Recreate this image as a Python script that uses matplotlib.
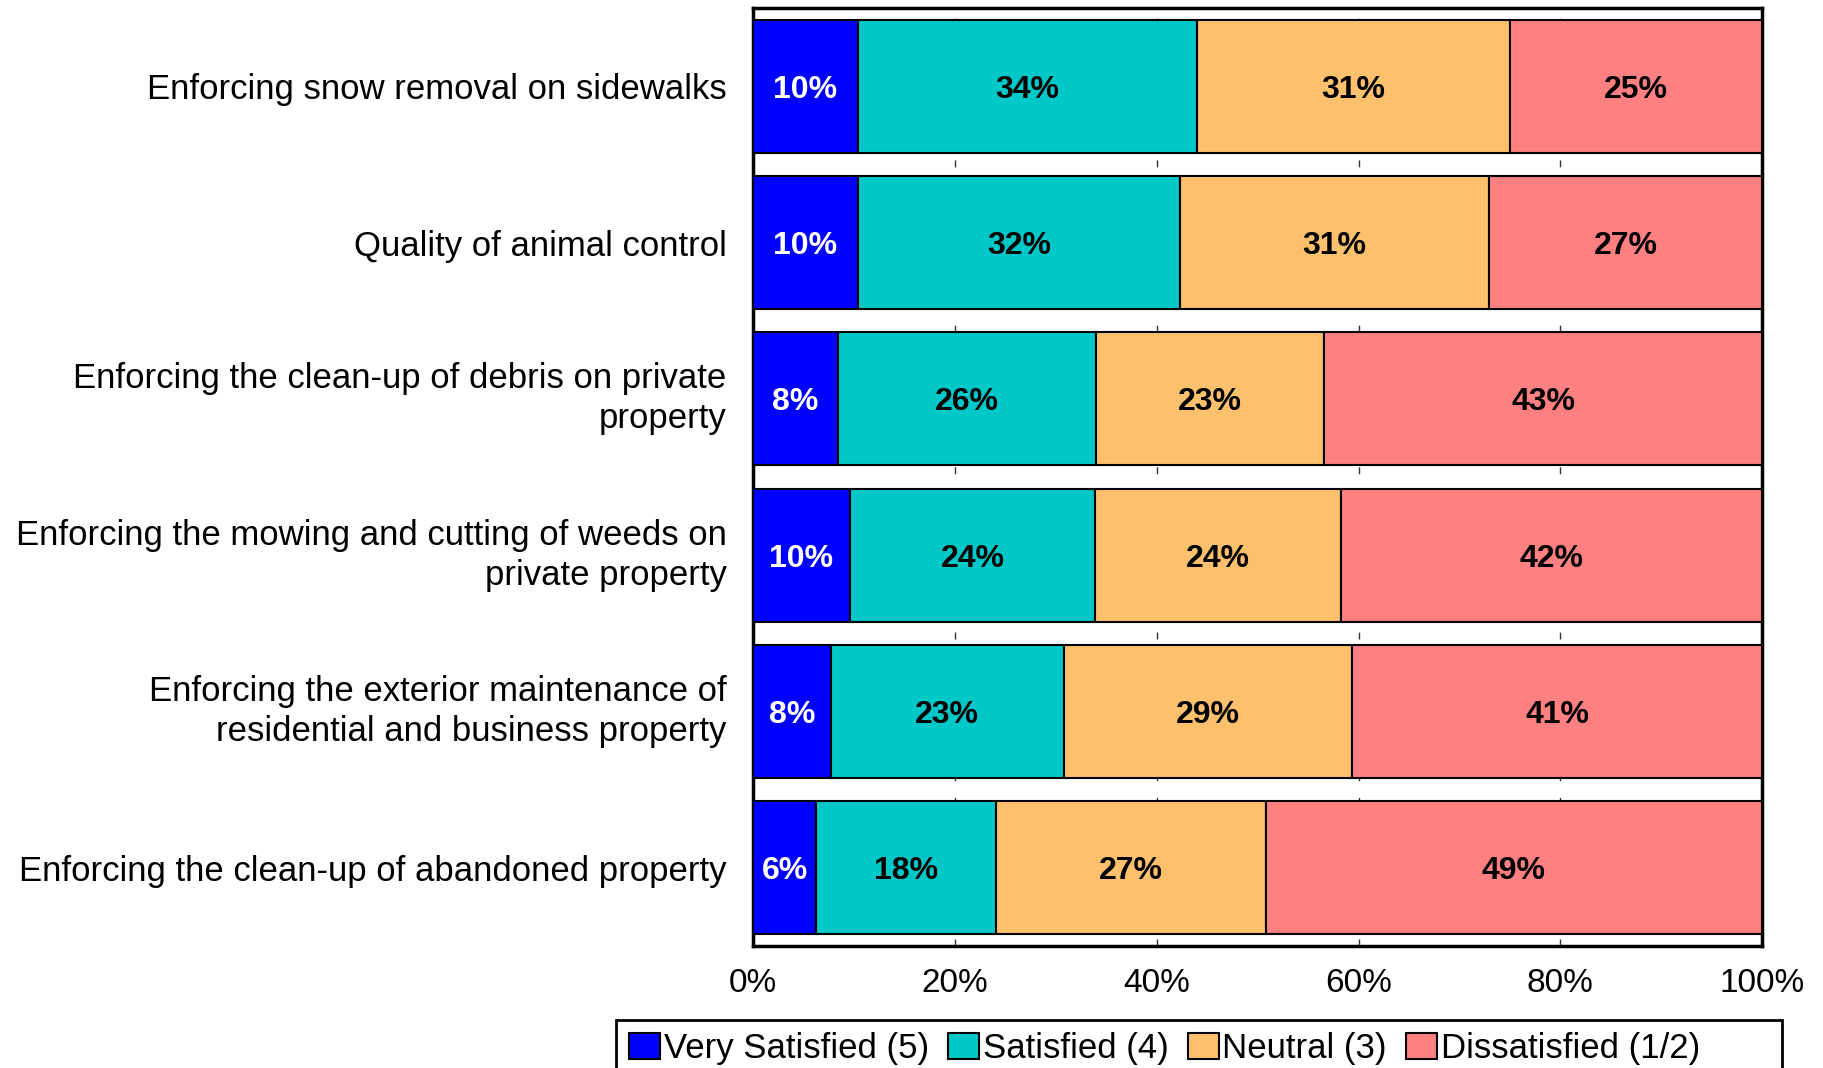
import matplotlib
matplotlib.use('Agg')
import matplotlib.pyplot as plt
import matplotlib.transforms as mtransforms
from matplotlib.patches import Rectangle
import numpy as np

plt.rcParams['font.family'] = ['Liberation Sans', 'DejaVu Sans']

categories = [
    'Enforcing snow removal on sidewalks',
    'Quality of animal control',
    'Enforcing the clean-up of debris on private\nproperty',
    'Enforcing the mowing and cutting of weeds on\nprivate property',
    'Enforcing the exterior maintenance of\nresidential and business property',
    'Enforcing the clean-up of abandoned property',
]

# percent of respondents per rating, one list per rating group
very_satisfied = [10.4, 10.4, 8.4, 9.6, 7.7, 6.3]
satisfied = [33.6, 31.9, 25.6, 24.3, 23.1, 17.8]
neutral = [31.0, 30.6, 22.6, 24.4, 28.6, 26.7]
dissatisfied = [25.0, 27.1, 43.4, 41.7, 40.6, 49.2]

series = [
    ('Very Satisfied (5)', very_satisfied, '#0000ff', 'white'),
    ('Satisfied (4)', satisfied, '#00c8c8', 'black'),
    ('Neutral (3)', neutral, '#fdc06c', 'black'),
    ('Dissatisfied (1/2)', dissatisfied, '#ff8080', 'black'),
]

fig = plt.figure(figsize=(18.23, 10.68), dpi=100)
ax = fig.add_axes([0.413, 0.1142, 0.5537, 0.8783])

y = np.arange(len(categories))
left = np.zeros(len(categories))
for name, vals, color, txt_color in series:
    vals = np.array(vals)
    bars = ax.barh(y, vals, left=left, height=0.85, color=color,
                   edgecolor='black', linewidth=1.5, label=name, zorder=3)
    for b, v in zip(bars, vals):
        ax.text(b.get_x() + b.get_width() / 2, b.get_y() + b.get_height() / 2,
                f'{v:.0f}%', ha='center', va='center_baseline', color=txt_color,
                fontsize=23, fontweight='bold', zorder=4)
    left += vals

ax.set_xlim(0, 100)
ax.set_ylim(len(categories) - 0.5, -0.5)
ax.set_yticks(y)
ax.set_yticklabels(categories, fontsize=25, linespacing=1.27)
ax.set_xticks(np.arange(0, 101, 20))
ax.set_xticklabels([f'{t}%' for t in range(0, 101, 20)], fontsize=24)
ax.tick_params(axis='both', length=0)
ax.tick_params(axis='y', pad=19)
ax.tick_params(axis='x', pad=16)

# nudge the two-line labels up a little
shift = mtransforms.ScaledTranslation(0, 5 / 72, fig.dpi_scale_trans)
for lbl in ax.get_yticklabels():
    if '\n' in lbl.get_text():
        lbl.set_transform(lbl.get_transform() + shift)

ax.xaxis.grid(True, color='#333333', linestyle=(0, (5, 12)), linewidth=1, zorder=0)
for s in ax.spines.values():
    s.set_linewidth(2.5)
    s.set_color('black')

leg = fig.legend(loc='upper left', bbox_to_anchor=(0.3385, 0.045), ncol=4,
                 fontsize=25, frameon=False, handlelength=0.9,
                 handleheight=0.75, handletextpad=0.1, columnspacing=0.55,
                 borderpad=0.35, borderaxespad=0)
for h in leg.legend_handles:
    h.set_edgecolor('black')
    h.set_linewidth(1.5)

# legend box runs wider than the entries and off the bottom edge
fig.add_artist(Rectangle((0.338, -0.05), 0.6396, 0.0949, transform=fig.transFigure,
                         fill=False, edgecolor='black', linewidth=2))

fig.savefig('out.png', dpi=100)
